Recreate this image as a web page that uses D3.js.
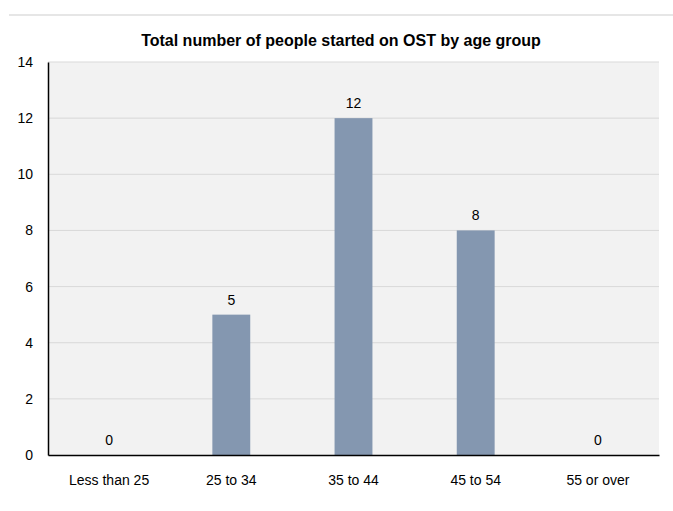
<!DOCTYPE html>
<html>
<head>
<meta charset="utf-8">
<script src="https://cdn.jsdelivr.net/npm/d3@7"></script>
<style>
	body { margin: 0; background: #fff; }
	svg text { font-family: "Liberation Sans", Arial, sans-serif; fill: #000; }
</style>
</head>
<body>
<div id="chart"></div>
<script>
// data
var categories = ['Less than 25', '25 to 34', '35 to 44', '45 to 54', '55 or over'];
var values = [0, 5, 12, 8, 0];
var yTicks = [0, 2, 4, 6, 8, 10, 12, 14];
var title = 'Total number of people started on OST by age group';

var W = 673, H = 511;
// plot edges (window.top is reserved, so other names)
var plotL = 48, plotR = 659, plotT = 62, plotB = 455;

var svg = d3.select('#chart')
	.append('svg')
	.attr('width', W)
	.attr('height', H);

// line above the chart
svg.append('line')
	.attr('x1', 9).attr('x2', W)
	.attr('y1', 15).attr('y2', 15)
	.attr('stroke', '#e6e6e6')
	.attr('stroke-width', 2);

svg.append('text')
	.attr('x', 341)
	.attr('y', 46)
	.attr('text-anchor', 'middle')
	.style('font-size', '16px')
	.style('font-weight', 'bold')
	.text(title);

var x = d3.scaleBand()
	.domain(categories)
	.range([plotL, plotR])
	.paddingInner(0.69)
	.paddingOuter(0.345);

var y = d3.scaleLinear()
	.domain([0, 14])
	.range([plotB, plotT]);

// plot background
svg.append('rect')
	.attr('x', plotL)
	.attr('y', plotT)
	.attr('width', plotR - plotL)
	.attr('height', plotB - plotT)
	.attr('fill', '#f2f2f2');

// gridlines
svg.append('g')
	.selectAll('line')
	.data(yTicks.filter(function (d) { return d > 0; }))
	.enter()
	.append('line')
	.attr('x1', plotL)
	.attr('x2', plotR)
	.attr('y1', function (d) { return y(d); })
	.attr('y2', function (d) { return y(d); })
	.attr('stroke', '#d9d9d9')
	.attr('stroke-width', 1);

// bars
svg.append('g')
	.selectAll('rect')
	.data(values)
	.enter()
	.append('rect')
	.attr('x', function (d, i) { return x(categories[i]); })
	.attr('y', function (d) { return y(d); })
	.attr('width', x.bandwidth())
	.attr('height', function (d) { return y(0) - y(d); })
	.attr('fill', '#8497b0');

// value labels
svg.append('g')
	.selectAll('text')
	.data(values)
	.enter()
	.append('text')
	.attr('x', function (d, i) { return x(categories[i]) + x.bandwidth() / 2; })
	.attr('y', function (d) { return y(d) - 10; })
	.attr('text-anchor', 'middle')
	.style('font-size', '14px')
	.text(function (d) { return d; });

// y axis
var yAxis = svg.append('g')
	.attr('transform', 'translate(' + plotL + ',0)')
	.call(d3.axisLeft(y).tickValues(yTicks).tickSize(0).tickPadding(15));
yAxis.select('.domain').attr('stroke', '#000').attr('stroke-width', 1.5);
yAxis.selectAll('text').style('font-size', '14px');

// x axis
var xAxis = svg.append('g')
	.attr('transform', 'translate(0,' + plotB + ')')
	.call(d3.axisBottom(x).tickSize(0).tickPadding(20));
xAxis.select('.domain').attr('stroke', '#000').attr('stroke-width', 1.5);
xAxis.selectAll('text').style('font-size', '14px');
</script>
</body>
</html>
